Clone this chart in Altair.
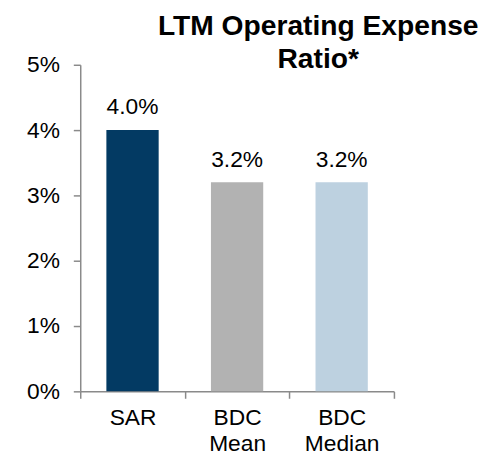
import altair as alt
import pandas as pd

categories = ["SAR", "BDC Mean", "BDC Median"]
values = [0.040, 0.032, 0.032]
colors = ["#033A63", "#B2B2B2", "#BDD1E0"]
y_ticks = [0.0, 0.01, 0.02, 0.03, 0.04, 0.05]
title_lines = ["LTM Operating Expense", "Ratio*"]

FONT = "Liberation Sans"
AXIS_GRAY = "#8A8A8A"

df = pd.DataFrame({"cat": categories, "val": values, "color": colors})

base = alt.Chart(df).encode(
    x=alt.X(
        "cat:N",
        sort=categories,
        scale=alt.Scale(paddingInner=0, paddingOuter=0),
        axis=alt.Axis(
            title=None,
            labelAngle=0,
            tickBand="extent",
            labelExpr="split(datum.label, ' ')",
            labelFont=FONT,
            labelFontSize=23,
            labelColor="black",
            labelPadding=9,
            labelLineHeight=26,
            tickSize=7,
            tickColor=AXIS_GRAY,
            tickWidth=1.5,
            domainColor=AXIS_GRAY,
            domainWidth=1.5,
            grid=False,
        ),
    ),
    y=alt.Y(
        "val:Q",
        scale=alt.Scale(domain=[0, 0.05]),
        axis=alt.Axis(
            title=None,
            values=y_ticks,
            format=".0%",
            labelFont=FONT,
            labelFontSize=23,
            labelColor="black",
            labelPadding=14,
            tickSize=7,
            tickColor=AXIS_GRAY,
            tickWidth=1.5,
            domainColor=AXIS_GRAY,
            domainWidth=1.5,
            grid=False,
        ),
    ),
)

bars = base.mark_bar(width=alt.RelativeBandSize(0.5)).encode(
    color=alt.Color("color:N", scale=None)
)

labels = base.mark_text(
    dy=-16, baseline="alphabetic", align="center", fontSize=23, font=FONT, color="black"
).encode(text=alt.Text("val:Q", format=".1%"))

chart = (
    alt.layer(bars, labels)
    .properties(
        width=317,
        height=330,
        autosize=alt.AutoSizeParams(type="none"),
        padding={"left": 73, "top": 55, "right": 90, "bottom": 67},
        title=alt.TitleParams(
            text=title_lines,
            font=FONT,
            fontSize=28.5,
            fontWeight="bold",
            color="black",
            anchor="middle",
            dx=82,
            dy=20,
            offset=0,
            lineHeight=34,
        ),
    )
    .configure_view(stroke=None)
)

chart.save("out.html", embed_options={"renderer": "svg", "actions": False})
